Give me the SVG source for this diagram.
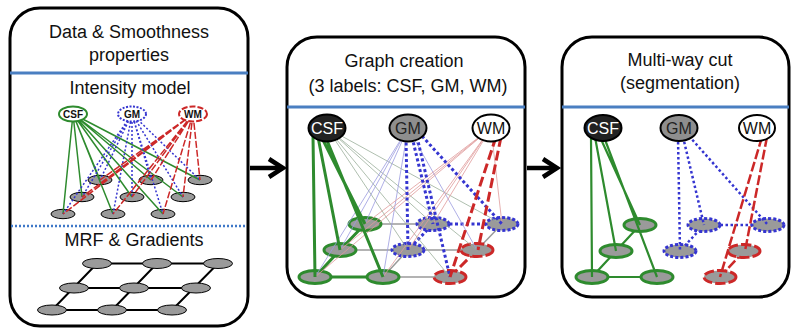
<svg xmlns="http://www.w3.org/2000/svg" width="791" height="331" viewBox="0 0 791 331">
  <defs>
    <style>
      text { font-family: "Liberation Sans", Arial, sans-serif; text-anchor: middle; fill: #111; }
      .title { font-size: 18px; }
      .panel { fill: #fff; stroke: #000; stroke-width: 3; }
      .rule { stroke: #4a7fc1; stroke-width: 3; }
      .rule-dot { stroke: #3f78c8; stroke-width: 2.5; stroke-dasharray: 2 2; }
      .px { fill: #9a9a9a; stroke: #000; stroke-width: 1; }
      .px-g { fill: #9a9a9a; stroke: #2e8b2e; stroke-width: 3; }
      .px-b { fill: #9a9a9a; stroke: #3535d0; stroke-width: 3; stroke-dasharray: 3 2; }
      .px-r { fill: #9a9a9a; stroke: #cc2828; stroke-width: 3; stroke-dasharray: 10 3; }
      .term-s { fill: #fff; stroke-width: 2; }
      .lab-s { font-size: 10px; font-weight: bold; }
      .lab { font-size: 16px; }
      .g1 { stroke: #2e8b2e; stroke-width: 1.5; fill: none; }
      .b1 { stroke: #3535d0; stroke-width: 1.5; stroke-dasharray: 2 2; fill: none; }
      .r1 { stroke: #cc2828; stroke-width: 1.5; stroke-dasharray: 7 2; fill: none; }
      .g3 { stroke: #2e8b2e; stroke-width: 3; fill: none; }
      .b3 { stroke: #3535d0; stroke-width: 3; stroke-dasharray: 3 2.5; fill: none; }
      .r3 { stroke: #cc2828; stroke-width: 3; stroke-dasharray: 10 4; fill: none; }
      .g2 { stroke: #2e8b2e; stroke-width: 2.2; fill: none; }
      .b2 { stroke: #3535d0; stroke-width: 2.5; stroke-dasharray: 2.5 2.5; fill: none; }
      .r2 { stroke: #cc2828; stroke-width: 2.5; stroke-dasharray: 10 3; fill: none; }
      .gray { stroke: #9a9a9a; stroke-width: 1.5; fill: none; }
      .tg { stroke: #9aae9a; stroke-width: 0.8; fill: none; }
      .tb { stroke: #9a9ae0; stroke-width: 0.8; fill: none; }
      .tr { stroke: #e09a9a; stroke-width: 0.8; fill: none; }
      .mrf { stroke: #000; stroke-width: 2; fill: none; }
      .arrow { stroke: #000; stroke-width: 4.5; fill: none; stroke-linejoin: miter; }
    </style>
  </defs>

  <!-- panel frames -->
  <g id="panel-data">
    <rect class="panel" x="10" y="8" width="238" height="318" rx="30"/>
    <line class="rule" x1="10" y1="73" x2="248" y2="73"/>
    <line class="rule-dot" x1="11" y1="226" x2="247" y2="226"/>
    <text class="title" x="129" y="38">Data &amp; Smoothness</text>
    <text class="title" x="129" y="61">properties</text>
    <text class="title" x="130" y="94">Intensity model</text>
    <text class="title" x="134" y="246">MRF &amp; Gradients</text>
  </g>
  <g id="panel-graph">
    <rect class="panel" x="287" y="37" width="238" height="260" rx="30"/>
    <line class="rule" x1="287" y1="107" x2="525" y2="107"/>
    <text class="title" x="404" y="67">Graph creation</text>
    <text class="title" x="408" y="92">(3 labels: CSF, GM, WM)</text>
  </g>
  <g id="panel-cut">
    <rect class="panel" x="562" y="37" width="227" height="260" rx="30"/>
    <line class="rule" x1="562" y1="107" x2="789" y2="107"/>
    <text class="title" x="680" y="66">Multi-way cut</text>
    <text class="title" x="680" y="89">(segmentation)</text>
  </g>

  <!-- flow arrows between panels -->
  <g id="arrows">
    <line class="arrow" x1="250" y1="168" x2="283" y2="168"/>
    <polyline class="arrow" points="269,159 283,168 269,177"/>
    <line class="arrow" x1="527" y1="168" x2="557" y2="168"/>
    <polyline class="arrow" points="543,159 557,168 543,177"/>
  </g>

  <!-- intensity model: pixel nodes -->
  <g id="intensity-pixels">
    <ellipse class="px" cx="100" cy="180" rx="12" ry="4.7"/>
    <ellipse class="px" cx="151" cy="180" rx="12" ry="4.7"/>
    <ellipse class="px" cx="200" cy="180" rx="12" ry="4.7"/>
    <ellipse class="px" cx="82" cy="197" rx="12" ry="4.7"/>
    <ellipse class="px" cx="132" cy="197" rx="12" ry="4.7"/>
    <ellipse class="px" cx="183" cy="197" rx="12" ry="4.7"/>
    <ellipse class="px" cx="63" cy="214" rx="12" ry="4.7"/>
    <ellipse class="px" cx="113" cy="214" rx="12" ry="4.7"/>
    <ellipse class="px" cx="163" cy="214" rx="12" ry="4.7"/>
  </g>

  <!-- MRF grid -->
  <g id="mrf-edges">
    <path class="mrf" d="M97,263.5 H218 M74,288 H196 M52,310 H172 M97,263.5 L52,310 M157,263.5 L112,310 M218,263.5 L172,310"/>
  </g>
  <g id="mrf-nodes">
    <ellipse class="px" cx="97" cy="263.5" rx="14.5" ry="5"/>
    <ellipse class="px" cx="157" cy="263.5" rx="14.5" ry="5"/>
    <ellipse class="px" cx="218" cy="263.5" rx="14.5" ry="5"/>
    <ellipse class="px" cx="74" cy="288" rx="14.5" ry="5"/>
    <ellipse class="px" cx="134" cy="288" rx="14.5" ry="5"/>
    <ellipse class="px" cx="196" cy="288" rx="14.5" ry="5"/>
    <ellipse class="px" cx="52" cy="310" rx="14.5" ry="5"/>
    <ellipse class="px" cx="112" cy="310" rx="14.5" ry="5"/>
    <ellipse class="px" cx="172" cy="310" rx="14.5" ry="5"/>
  </g>

  <!-- graph creation: neighbourhood edges -->
  <g id="graph-edges">
    <path class="gray" d="M365,224 H433 M340,250 H477 M383,277 H450 M408,250 L383,277 M502,224 L477,250"/>
    <path class="g3" d="M365,224 L340,250 L315,277 H383"/>
    <path class="b3" d="M502,224 H433 L408,250"/>
    <path class="r3" d="M477,250 L450,277"/>
  </g>
  <g id="graph-pixels">
    <ellipse class="px-g" cx="365" cy="224" rx="16" ry="6.5"/>
    <ellipse class="px-b" cx="433" cy="224" rx="16" ry="6.5"/>
    <ellipse class="px-b" cx="502" cy="224" rx="16" ry="6.5"/>
    <ellipse class="px-g" cx="340" cy="250" rx="16" ry="6.5"/>
    <ellipse class="px-b" cx="408" cy="250" rx="16" ry="6.5"/>
    <ellipse class="px-r" cx="477" cy="250" rx="16" ry="6.5"/>
    <ellipse class="px-g" cx="315" cy="277" rx="16" ry="6.5"/>
    <ellipse class="px-g" cx="383" cy="277" rx="16" ry="6.5"/>
    <ellipse class="px-r" cx="450" cy="277" rx="16" ry="6.5"/>
  </g>

  <!-- segmentation: surviving edges -->
  <g id="cut-edges">
    <path class="g2" d="M640,225 L616,251 L592,277 H657"/>
    <path class="b2" d="M768,225 H704 L680,251"/>
    <path class="r2" d="M744,251 L720,277"/>
  </g>
  <g id="cut-pixels">
    <ellipse class="px-g" cx="640" cy="225" rx="16" ry="6.5"/>
    <ellipse class="px-b" cx="704" cy="225" rx="16" ry="6.5"/>
    <ellipse class="px-b" cx="768" cy="225" rx="16" ry="6.5"/>
    <ellipse class="px-g" cx="616" cy="251" rx="16" ry="6.5"/>
    <ellipse class="px-b" cx="680" cy="251" rx="16" ry="6.5"/>
    <ellipse class="px-r" cx="744" cy="251" rx="16" ry="6.5"/>
    <ellipse class="px-g" cx="592" cy="277" rx="16" ry="6.5"/>
    <ellipse class="px-g" cx="657" cy="277" rx="16" ry="6.5"/>
    <ellipse class="px-r" cx="720" cy="277" rx="16" ry="6.5"/>
  </g>

  <!-- terminal links -->
  <g id="connectors">
    <!-- intensity model likelihoods -->
    <path class="g1" d="M73,114 L100,180 M73,114 L151,180 M73,114 L200,180 M73,114 L82,197 M73,114 L132,197 M73,114 L183,197 M73,114 L63,214 M73,114 L113,214 M73,114 L163,214"/>
    <path class="b1" d="M132,114 L100,180 M132,114 L151,180 M132,114 L200,180 M132,114 L82,197 M132,114 L132,197 M132,114 L183,197 M132,114 L63,214 M132,114 L113,214 M132,114 L163,214"/>
    <path class="r1" d="M193,114 L100,180 M193,114 L151,180 M193,114 L200,180 M193,114 L82,197 M193,114 L132,197 M193,114 L183,197 M193,114 L63,214 M193,114 L113,214 M193,114 L163,214"/>

    <!-- graph creation: weak links -->
    <path class="tg" d="M327,128 L433,224 M327,128 L502,224 M327,128 L408,250 M327,128 L477,250 M327,128 L450,277"/>
    <path class="tb" d="M408,128 L365,224 M408,128 L340,250 M408,128 L315,277 M408,128 L383,277 M408,128 L477,250"/>
    <path class="tr" d="M491,128 L365,224 M491,128 L433,224 M491,128 L340,250 M491,128 L408,250 M491,128 L315,277 M491,128 L383,277 M491,128 L502,224"/>
    <!-- graph creation: strong links -->
    <path class="g3" d="M313,136 L315,277 M318,137 L340,250 M322,138 L365,224 M326,138 L383,277"/>
    <path class="b3" d="M406,137 L408,250 M412,137 L433,224 M417,137 L450,277 M422,136 L502,224"/>
    <path class="r3" d="M496,137 L450,277 M501,137 L478,250"/>

    <!-- segmentation links -->
    <path class="g2" d="M591,136 L592,277 M595,137 L616,251 M600,137 L640,225 M604,137 L657,277"/>
    <path class="b2" d="M678,137 L680,251 M683,137 L704,225 M689,136 L768,225"/>
    <path class="r2" d="M762,137 L720,277 M767,137 L745,251"/>
  </g>

  <!-- label terminals -->
  <g id="term-csf-small">
    <ellipse class="term-s" cx="73" cy="114" rx="14" ry="7.5" stroke="#2e8b2e"/>
    <text class="lab-s" x="73" y="117.5">CSF</text>
  </g>
  <g id="term-gm-small">
    <ellipse class="term-s" cx="132" cy="114" rx="14" ry="7.5" stroke="#3535d0" stroke-dasharray="2 1.5"/>
    <text class="lab-s" x="132" y="117.5">GM</text>
  </g>
  <g id="term-wm-small">
    <ellipse class="term-s" cx="193" cy="114" rx="14" ry="7.5" stroke="#cc2828" stroke-dasharray="6 2"/>
    <text class="lab-s" x="193" y="117.5">WM</text>
  </g>

  <g id="term-csf-graph">
    <ellipse cx="327" cy="128" rx="18.5" ry="13.5" fill="#222" stroke="#000" stroke-width="2"/>
    <text class="lab" x="327" y="134" style="fill:#fff">CSF</text>
  </g>
  <g id="term-gm-graph">
    <ellipse cx="408" cy="128" rx="18.5" ry="13.5" fill="#8e8e8e" stroke="#000" stroke-width="2"/>
    <text class="lab" x="408" y="134" style="fill:#222">GM</text>
  </g>
  <g id="term-wm-graph">
    <ellipse cx="491" cy="128" rx="18.5" ry="13.5" fill="#fff" stroke="#000" stroke-width="2"/>
    <text class="lab" x="491" y="134">WM</text>
  </g>

  <g id="term-csf-cut">
    <ellipse cx="603" cy="128" rx="18.5" ry="13" fill="#222" stroke="#000" stroke-width="2"/>
    <text class="lab" x="603" y="134" style="fill:#fff">CSF</text>
  </g>
  <g id="term-gm-cut">
    <ellipse cx="679" cy="128" rx="18.5" ry="13" fill="#8e8e8e" stroke="#000" stroke-width="2"/>
    <text class="lab" x="679" y="134" style="fill:#222">GM</text>
  </g>
  <g id="term-wm-cut">
    <ellipse cx="757" cy="128" rx="18" ry="13" fill="#fff" stroke="#000" stroke-width="2"/>
    <text class="lab" x="757" y="134">WM</text>
  </g>
</svg>
